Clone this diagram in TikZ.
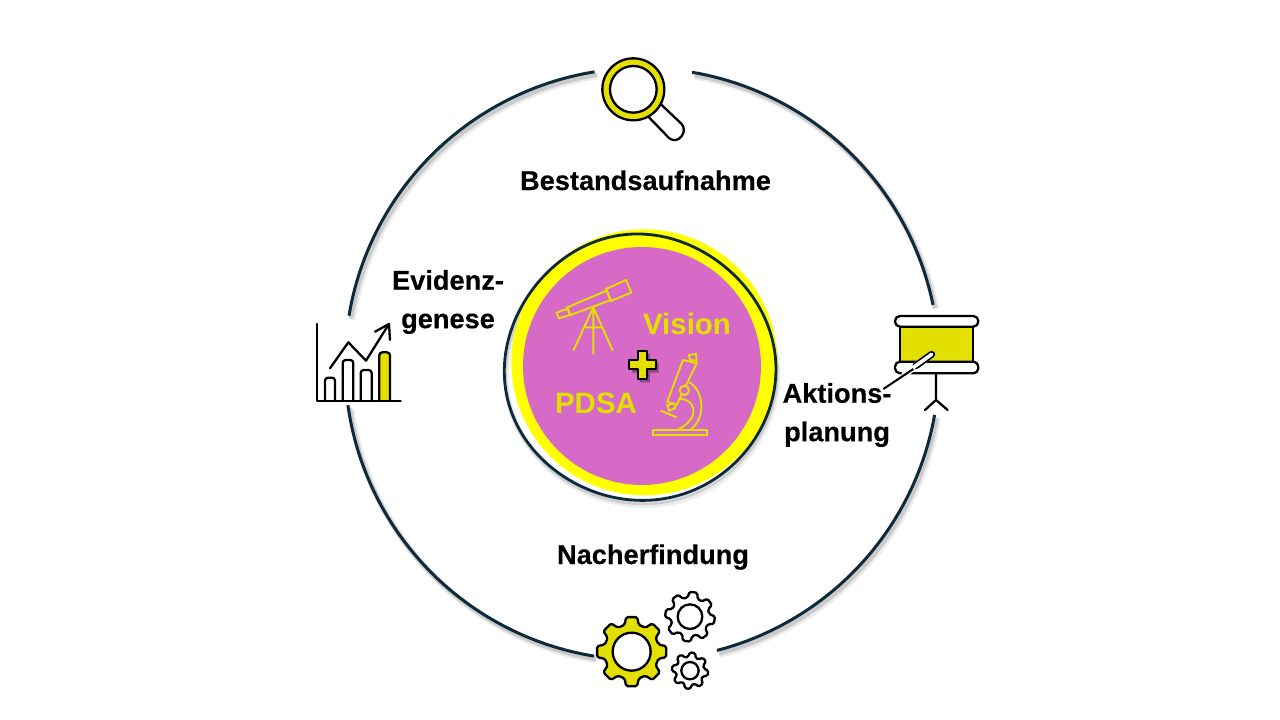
\documentclass[tikz,border=0pt]{standalone}
\usepackage{fontspec}
\setmainfont{Liberation Sans}[BoldFont=Liberation Sans Bold,BoldFeatures={FakeBold=0.3}]
\newfontfamily\arialbold[BoldFont=Liberation Sans Bold]{Liberation Sans}
\usetikzlibrary{calc}
\definecolor{ringc}{HTML}{0E2A3A}
\definecolor{iconyel}{HTML}{E3DF00}
\definecolor{pureyel}{HTML}{FFFF00}
\definecolor{magc}{HTML}{D76AC6}
\tikzset{
  ringline/.style={draw=ringc,line width=3pt,line cap=butt},
  ringshadeA/.style={draw=black,opacity=.07,line width=7pt},
  ringshadeB/.style={draw=black,opacity=.14,line width=4.5pt},
  iconline/.style={draw=black,line width=2.3pt,line join=round,line cap=round},
  scopeline/.style={draw=iconyel,line width=1.9pt,line join=miter},
  lab/.style={font=\bfseries\fontsize{27.2}{38.5}\selectfont,text=black,inner sep=0pt,align=center},
  inlab/.style={font=\arialbold\bfseries\fontsize{29.5}{34}\selectfont,text=iconyel,inner sep=0pt},
}
\newcommand{\ringarc}[2]{%
  \draw[ringshadeA] plot[smooth,domain=#1:#2,samples=50] ({645+297*cos(\x)},{368+296*sin(\x)});
  \draw[ringshadeB] plot[smooth,domain=#1:#2,samples=50] ({644+297*cos(\x)},{367+296*sin(\x)});
  \draw[ringline] plot[smooth,domain=#1:#2,samples=50] ({642+297*cos(\x)},{364+296*sin(\x)});
}
\newcommand{\gearshape}[7]{% cx cy Rout Rroot hole offset fill
  \filldraw[iconline,fill=#7,rounded corners=1.6pt]
    ({#1+#4*cos(#6-15)},{#2+#4*sin(#6-15)})
    \foreach \k in {0,...,7}{
      -- ({#1+#4*cos(\k*45+#6-15)},{#2+#4*sin(\k*45+#6-15)})
      -- ({#1+#3*cos(\k*45+#6-9)},{#2+#3*sin(\k*45+#6-9)})
      -- ({#1+#3*cos(\k*45+#6+9)},{#2+#3*sin(\k*45+#6+9)})
      -- ({#1+#4*cos(\k*45+#6+15)},{#2+#4*sin(\k*45+#6+15)})
    } -- cycle;
  \filldraw[iconline,fill=white] (#1,#2) circle[radius=#5];
}
\newcommand{\blobplot}{plot[smooth cycle,domain=0:356,samples=90] ({452+(406-10*pow(.5+.5*cos(\x+50),6))*cos(\x)+4*cos(3*\x+40)},{443+(402-10*pow(.5+.5*cos(\x+50),6))*sin(\x)+4*sin(2*\x+70)})}
\begin{document}
\begin{tikzpicture}[x=1pt,y=-1pt]
\useasboundingbox (0,0) rectangle (1280,720);
\fill[white] (0,0) rectangle (1280,720);

% outer ring
\ringarc{-80.3}{-11.5}
\ringarc{9.9}{75.4}
\ringarc{99.3}{172}
\ringarc{189.4}{260.8}

% centre disc (reference zoom coordinates)
\begin{scope}[shift={(490,220)},x=0.3333pt,y=-0.3333pt]
  \begin{scope}[yshift=-5pt,xshift=2pt]
    \draw[black,opacity=.07,line width=5pt] \blobplot;
  \end{scope}
  \begin{scope}[yshift=-3pt,xshift=1pt]
    \draw[black,opacity=.13,line width=3.5pt] \blobplot;
  \end{scope}
  \fill[pureyel] (463,427) circle[radius=399];
  \fill[magc] (456,438) circle[radius=357];
  \draw[ringc,line width=2.8pt] \blobplot;
  % telescope
  \draw[scopeline] (348,207)--(408,180)--(424,218)--(362,243)--cycle;
  \draw[scopeline] (232,262)--(350,212)--(362,240)--(242,285)--cycle;
  \draw[scopeline] (200,278)--(232,266)--(240,285)--(207,295)--cycle;
  \draw[scopeline] (310,262)--(250,392) (310,262)--(368,392) (310,262)--(310,403) (283,322)--(337,322);
  % microscope
  \draw[scopeline] (488,630) rectangle (652,646);
  \draw[scopeline] (579,420)--(620,430)--(560,555)--(532,545)--cycle;
  \draw[scopeline] (597,405)--(618,402)--(620,422)--(600,420)--cycle;
  \draw[scopeline] (532,555)--(553,550)--(555,565)--(537,572)--cycle;
  \fill[magc] (583,511) circle[radius=14];
  \draw[scopeline] (583,511) circle[radius=14];
  \draw[scopeline] (598,487) .. controls (640,510) and (650,590) .. (603,628);
  \draw[scopeline] (565,538) .. controls (610,530) and (640,590) .. (565,628);
  \draw[scopeline] (512,572)--(560,592);
  % plus
  \fill[black!60!magc,opacity=.55] (450,401)--(480,401)--(480,427)--(506,427)--(506,458)--(480,458)--(480,487)--(450,487)--(450,458)--(426,458)--(426,427)--(450,427)--cycle;
  \filldraw[draw=black,line width=2.2pt,fill=iconyel,line join=round] (443,392)--(471,392)--(471,419)--(497,419)--(497,447)--(471,447)--(471,477)--(443,477)--(443,447)--(418,447)--(418,419)--(443,419)--cycle;
\end{scope}
\node[inlab] (vision) at (687,324) {Vision};
\node[inlab] (pdsa) at (596,403) {PDSA};

% labels
\node[lab,anchor=base] (best) at (645.5,190) {Bestandsaufnahme};
\node[lab] (evid) at (448,302) {Evidenz-\\genese};
\node[lab] (akt) at (837,415) {Aktions-\\planung};
\node[lab,anchor=base] (nach) at (653,564) {Nacherfindung};

% magnifier
\begin{scope}[shift={(580,50)},x=0.3333pt,y=-0.3333pt]
  \filldraw[iconline,fill=white] (245,165)--(305,222) .. controls (325,245) and (295,285) .. (268,265) --(205,200);
  \filldraw[iconline,fill=iconyel] (160,118) circle[radius=93];
  \filldraw[iconline,fill=white] (160,118) circle[radius=70];
\end{scope}

% chart
\begin{scope}[shift={(300,300)},x=0.3333pt,y=-0.3333pt]
  \draw[iconline,rounded corners=3pt,fill=white] (75,303)--(75,233)--(105,233)--(105,303);
  \draw[iconline,rounded corners=3pt,fill=white] (128,303)--(128,180)--(160,180)--(160,303);
  \draw[iconline,rounded corners=3pt,fill=white] (182,303)--(182,210)--(215,210)--(215,303);
  \draw[iconline,rounded corners=3pt,fill=iconyel] (238,303)--(238,157)--(270,157)--(270,303);
  \draw[iconline] (52,72)--(52,303)--(302,303);
  \draw[iconline] (90,205)--(145,127)--(198,182)--(265,75);
  \draw[iconline] (225,95)--(267,72)--(270,120);
\end{scope}

% presentation board
\begin{scope}[shift={(870,295)},x=0.3333pt,y=-0.3333pt]
  \draw[iconline] (198,235)--(198,315) (165,345)--(198,315)--(233,345);
  \filldraw[iconline,fill=iconyel] (90,95) rectangle (308,200);
  \filldraw[iconline,fill=white,rounded corners=5pt] (75,63) rectangle (325,95);
  \filldraw[iconline,fill=white,rounded corners=5pt] (75,200) rectangle (325,235);
  \draw[white,line width=7pt,line cap=round] (185,178)--(105,236);
  \draw[black,line width=7pt,line cap=round] (185,178)--(138,212);
  \draw[white,line width=3.6pt,line cap=round] (185,178)--(118,226);
  \draw[black,line width=2pt] (130,222)--(40,282);
\end{scope}

% gears
\begin{scope}[shift={(580,580)},x=0.3333pt,y=-0.3333pt]
  \gearshape{330}{110}{75}{58}{37}{8}{white}
  \gearshape{330}{272}{55}{42}{26}{8}{white}
  \gearshape{155}{215}{105}{83}{57}{0}{iconyel}
\end{scope}
\end{tikzpicture}
\end{document}
